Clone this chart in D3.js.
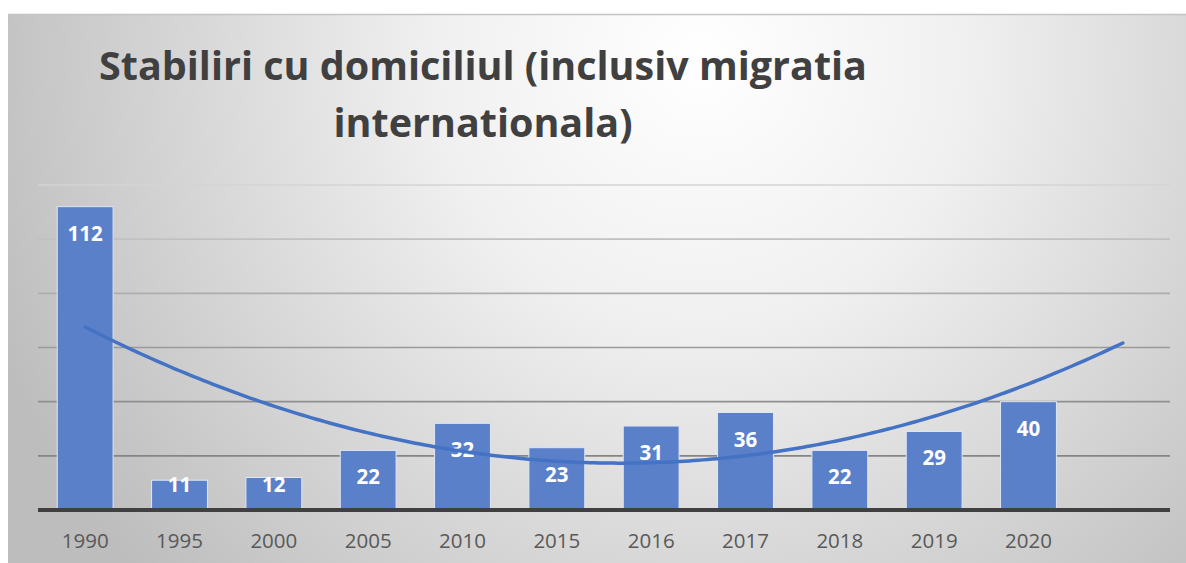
<!DOCTYPE html>
<html>
<head>
<meta charset="utf-8">
<script src="https://cdn.jsdelivr.net/npm/d3@7"></script>
<style>
  html, body { margin: 0; padding: 0; background: #ffffff; }
  svg { display: block; }
</style>
</head>
<body>
<svg id="chart" width="1186" height="563"></svg>
<script>
// ---- data ----
const titleLines = ["Stabiliri cu domiciliul (inclusiv migratia", "internationala)"];
const categories = ["1990", "1995", "2000", "2005", "2010", "2015", "2016", "2017", "2018", "2019", "2020"];
const values = [112, 11, 12, 22, 32, 23, 31, 36, 22, 29, 40];
const gridTicks = [20, 40, 60, 80, 100, 120];
const forecastForward = 1; // trendline extends one period forward

// ---- layout ----
const W = 1186, H = 563;
const frame = { x: 8, y: 14 };
const plot = { left: 38, right: 1170, top: 185, bottom: 510 };

const svg = d3.select("#chart");
const defs = svg.append("defs");

// background gradient
const bg = defs.append("radialGradient")
  .attr("id", "bgGrad").attr("gradientUnits", "userSpaceOnUse")
  .attr("cx", 700).attr("cy", 60).attr("r", 760);
bg.append("stop").attr("offset", 0).attr("stop-color", "#ffffff");
bg.append("stop").attr("offset", 0.35).attr("stop-color", "#f0f0f0");
bg.append("stop").attr("offset", 1).attr("stop-color", "#bdbdbd");

// gridline gradient (lighter at top, darker lower)
const gg = defs.append("linearGradient")
  .attr("id", "gridGrad").attr("gradientUnits", "userSpaceOnUse")
  .attr("x1", 0).attr("y1", plot.top).attr("x2", 0).attr("y2", plot.bottom);
gg.append("stop").attr("offset", 0).attr("stop-color", "#d4d4d4");
gg.append("stop").attr("offset", 0.5).attr("stop-color", "#9a9a9a");
gg.append("stop").attr("offset", 1).attr("stop-color", "#7a7a7a");

svg.append("rect")
  .attr("x", frame.x).attr("y", frame.y)
  .attr("width", W - frame.x).attr("height", H - frame.y)
  .attr("fill", "url(#bgGrad)");
svg.append("line")
  .attr("x1", frame.x).attr("x2", W)
  .attr("y1", frame.y + 0.5).attr("y2", frame.y + 0.5)
  .attr("stroke", "#c4c4c4").attr("stroke-width", 1.5);

// ---- scales ----
const slots = categories.concat(d3.range(forecastForward).map((d, i) => "__f" + i));
const x = d3.scaleBand().domain(slots).range([plot.left, plot.right]).paddingInner(0.408).paddingOuter(0.204);
const y = d3.scaleLinear().domain([0, 120]).range([plot.bottom, plot.top]);

// gridlines
svg.append("g").attr("class", "grid")
  .selectAll("line").data(gridTicks).join("line")
  .attr("x1", plot.left).attr("x2", plot.right)
  .attr("y1", d => y(d)).attr("y2", d => y(d))
  .attr("stroke", "url(#gridGrad)").attr("stroke-width", 1.6);

// bars
svg.append("g").selectAll("rect").data(values).join("rect")
  .attr("x", (d, i) => x(categories[i]))
  .attr("y", d => y(d))
  .attr("width", x.bandwidth())
  .attr("height", d => y(0) - y(d))
  .attr("fill", "#5a80c9")
  .attr("stroke", "#dfe6f3").attr("stroke-width", 1);

// baseline axis
const xAxis = d3.axisBottom(x).tickSize(0).tickPadding(0)
  .tickFormat(d => d.startsWith("__") ? "" : d);
const axG = svg.append("g").attr("transform", `translate(0,${plot.bottom})`).call(xAxis);
axG.select(".domain").attr("stroke", "#404040").attr("stroke-width", 4)
  .attr("d", `M${plot.left},0H${plot.right}`);
axG.selectAll("text")
  .attr("dy", null).attr("y", 38)
  .attr("fill", "#595959")
  .attr("font-family", "'Open Sans', sans-serif")
  .attr("font-size", 20.5);

// data labels (inside end)
svg.append("g").selectAll("text").data(values).join("text")
  .attr("x", (d, i) => x(categories[i]) + x.bandwidth() / 2)
  .attr("y", d => Math.min(y(d) + 34, plot.bottom - 18))
  .attr("text-anchor", "middle")
  .attr("fill", "#ffffff")
  .attr("font-family", "'Open Sans', sans-serif")
  .attr("font-weight", "bold")
  .attr("font-size", 20.5)
  .text(d => d);

// polynomial (order 2) trendline, least squares on x = 1..n
function polyFit2(ys) {
  const n = ys.length;
  let s0 = n, s1 = 0, s2 = 0, s3 = 0, s4 = 0, t0 = 0, t1 = 0, t2 = 0;
  ys.forEach((yv, i) => {
    const xv = i + 1;
    s1 += xv; s2 += xv * xv; s3 += xv ** 3; s4 += xv ** 4;
    t0 += yv; t1 += xv * yv; t2 += xv * xv * yv;
  });
  const A = [[s0, s1, s2, t0], [s1, s2, s3, t1], [s2, s3, s4, t2]];
  for (let c = 0; c < 3; c++) {
    for (let r = c + 1; r < 3; r++) {
      const f = A[r][c] / A[c][c];
      for (let k = c; k < 4; k++) A[r][k] -= f * A[c][k];
    }
  }
  const coef = [0, 0, 0];
  for (let r = 2; r >= 0; r--) {
    let s = A[r][3];
    for (let k = r + 1; k < 3; k++) s -= A[r][k] * coef[k];
    coef[r] = s / A[r][r];
  }
  return xv => coef[0] + coef[1] * xv + coef[2] * xv * xv;
}
const trend = polyFit2(values);
const xLin = d3.scaleLinear().domain([1, slots.length])
  .range([x(slots[0]) + x.bandwidth() / 2, x(slots[slots.length - 1]) + x.bandwidth() / 2]);
const trendPts = d3.range(1, slots.length + 0.001, 0.05).map(t => [xLin(t), y(trend(t))]);
svg.append("path")
  .attr("d", d3.line().curve(d3.curveLinear)(trendPts))
  .attr("fill", "none")
  .attr("stroke", "#4472c4")
  .attr("stroke-width", 3.5)
  .attr("stroke-linecap", "round");

// title
const title = svg.append("text")
  .attr("x", 483).attr("y", 80)
  .attr("text-anchor", "middle")
  .attr("fill", "#404040")
  .attr("font-family", "'Open Sans', sans-serif")
  .attr("font-weight", "bold")
  .attr("font-size", 39.5);
title.selectAll("tspan").data(titleLines).join("tspan")
  .attr("x", 483).attr("dy", (d, i) => i === 0 ? 0 : 57)
  .text(d => d);
</script>
</body>
</html>
